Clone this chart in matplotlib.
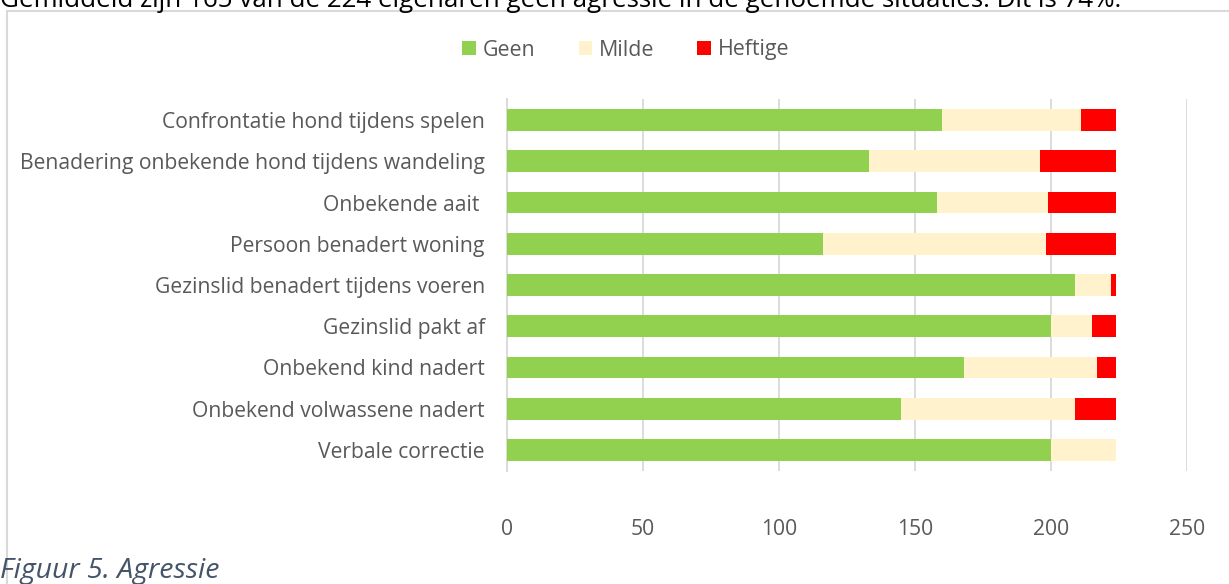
import matplotlib
matplotlib.use("Agg")
import matplotlib.pyplot as plt
from matplotlib.patches import Rectangle
import numpy as np

categories = [
    "Confrontatie hond tijdens spelen",
    "Benadering onbekende hond tijdens wandeling",
    "Onbekende aait ",
    "Persoon benadert woning",
    "Gezinslid benadert tijdens voeren",
    "Gezinslid pakt af",
    "Onbekend kind nadert",
    "Onbekend volwassene nadert",
    "Verbale correctie",
]
geen = [160, 133, 158, 116, 209, 200, 168, 145, 200]
milde = [51, 63, 41, 82, 13, 15, 49, 64, 24]
heftige = [13, 28, 25, 26, 2, 9, 7, 15, 0]
series_names = ["Geen", "Milde", "Heftige"]
colors = ["#92D050", "#FFF2CC", "#FF0000"]
xticks = [0, 50, 100, 150, 200, 250]

plt.rcParams['font.family'] = ['Open Sans', 'DejaVu Sans']
W, H = 1229, 584
fig = plt.figure(figsize=(W / 100, H / 100), dpi=100)

left, right, top, bottom = 507, 1187, 99.4, 470.6
ax = fig.add_axes([left / W, 1 - bottom / H, (right - left) / W, (bottom - top) / H])

y = np.arange(len(categories))
g = np.array(geen); m = np.array(milde); h = np.array(heftige)
b1 = ax.barh(y, g, height=0.53, color=colors[0], label=series_names[0], zorder=3)
b2 = ax.barh(y, m, left=g, height=0.53, color=colors[1], label=series_names[1], zorder=3)
b3 = ax.barh(y, h, left=g + m, height=0.53, color=colors[2], label=series_names[2], zorder=3)

ax.set_xlim(0, 250)
ax.set_ylim(len(categories) - 0.5, -0.5)
ax.set_yticks(y)
ax.set_yticklabels(categories)
ax.set_xticks(xticks)
ax.set_xticklabels([str(t) for t in xticks])
ax.tick_params(axis='both', length=0, labelsize=15.2, labelcolor='#595959')
ax.tick_params(axis='x', pad=35)
ax.tick_params(axis='y', pad=16)
ax.grid(axis='x', color='#D9D9D9', linewidth=1.3, zorder=0)
for s in ['top', 'right', 'bottom']:
    ax.spines[s].set_visible(False)
ax.spines['left'].set_color('#D9D9D9')
ax.spines['left'].set_linewidth(1.3)

fig.legend(handles=[b1, b2, b3], labels=series_names, loc='center',
           bbox_to_anchor=(626 / W, 1 - 50 / H), ncol=3, frameon=False,
           fontsize=15.4, labelcolor='#595959', handlelength=0.62, handleheight=0.62,
           handletextpad=0.35, columnspacing=2.0)

# chart border (extends beyond the crop on right and bottom)
fig.add_artist(Rectangle((7 / W, -0.05), 1.1, 1 - 11 / H + 0.05, transform=fig.transFigure,
                         fill=False, edgecolor='#D9D9D9', linewidth=1.5))

fig.text(0, 1 - 7 / H, "Gemiddeld zijn 165 van de 224 eigenaren geen agressie in de genoemde situaties. Dit is 74%.",
         ha='left', va='baseline', fontsize=18.7, color='black')
fig.text(0, 1 - 571 / H, "Figuur 5. Agressie", ha='left', va='center', fontsize=20.5,
         style='italic', color='#44546A')

fig.savefig("out.png", dpi=100)
